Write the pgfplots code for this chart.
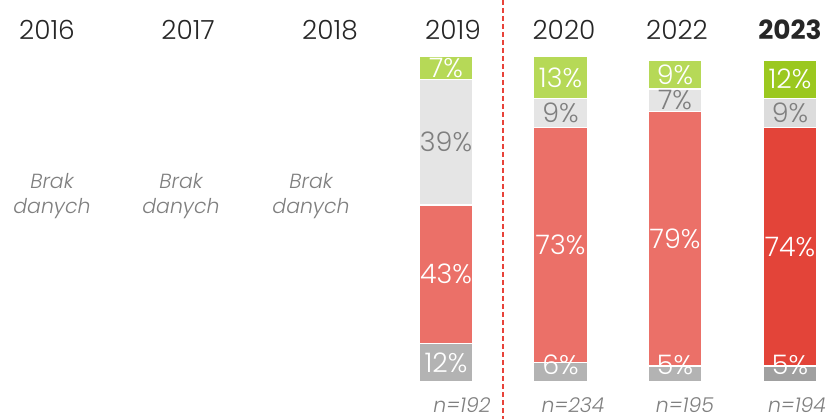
\documentclass[border=0pt]{standalone}
\usepackage{pgfplots}
\pgfplotsset{compat=1.18}
\usepackage{pgfplotstable}
\usepackage{fontspec}
\setmainfont{Poppins}[UprightFont=* Light, ItalicFont=* Light Italic, BoldFont=* Bold]

\definecolor{cgreen}{HTML}{B6D957}
\definecolor{cgreenD}{HTML}{9BC81F}
\definecolor{clgray}{HTML}{E5E5E5}
\definecolor{clgrayD}{HTML}{DCDCDC}
\definecolor{cred}{HTML}{EB7068}
\definecolor{credD}{HTML}{E34439}
\definecolor{cgray}{HTML}{B3B3B3}
\definecolor{cgrayD}{HTML}{A0A0A0}
\definecolor{ctext}{HTML}{7F7F7F}
\definecolor{cyear}{HTML}{262626}
\definecolor{cline}{HTML}{E8433A}

% x = bar centre; g = bottom grey, r = red, lg = light grey, gr = green
\pgfplotstableread{
x g r lg gr
446 12 43 39 7
560.5 6 73 9 13
675 5 79 7 9
}\dataA
\pgfplotstableread{
x g r lg gr
790 5 74 9 12
}\dataB

\pgfplotsset{base/.style={scale only axis, width=827bp, height=419bp,
  xmin=0, xmax=827, ymin=-11.49, ymax=118.63, hide axis, clip=false,
  anchor=south west, at={(0,0)}},
  lab/.style={draw=none, mark=none, nodes near coords={\pgfplotspointmeta\%},
  point meta=explicit symbolic,
  every node near coord/.append style={anchor=center, inner sep=0pt, font=\fontsize{27}{27}\selectfont, text=#1}}}

\begin{document}
\begin{tikzpicture}
% bars 2019-2022
\begin{axis}[base, ybar stacked, bar width=54]
\addplot[fill=cgray, draw=white, line width=1.3bp] table[x=x,y=g]{\dataA};
\addplot[fill=cred, draw=white, line width=1.3bp] table[x=x,y=r]{\dataA};
\addplot[fill=clgray, draw=white, line width=1.3bp] table[x=x,y=lg]{\dataA};
\addplot[fill=cgreen, draw=white, line width=1.3bp] table[x=x,y=gr]{\dataA};
\end{axis}
% bar 2023
\begin{axis}[base, ybar stacked, bar width=54]
\addplot[fill=cgrayD, draw=white, line width=1.3bp] table[x=x,y=g]{\dataB};
\addplot[fill=credD, draw=white, line width=1.3bp] table[x=x,y=r]{\dataB};
\addplot[fill=clgrayD, draw=white, line width=1.3bp] table[x=x,y=lg]{\dataB};
\addplot[fill=cgreenD, draw=white, line width=1.3bp] table[x=x,y=gr]{\dataB};
\end{axis}
% labels, line, texts
\begin{axis}[base]
\addplot[lab=white] table[x=x, y expr={max(\thisrow{g}/2,5.3)}, meta=g]{\dataA};
\addplot[lab=white] table[x=x, y expr={\thisrow{g}+\thisrow{r}/2}, meta=r]{\dataA};
\addplot[lab=ctext] table[x=x, y expr={\thisrow{g}+\thisrow{r}+\thisrow{lg}/2}, meta=lg]{\dataA};
\addplot[lab=white] table[x=x, y expr={\thisrow{g}+\thisrow{r}+\thisrow{lg}+\thisrow{gr}/2}, meta=gr]{\dataA};
\addplot[lab=white] table[x=x, y expr={max(\thisrow{g}/2,5.3)}, meta=g]{\dataB};
\addplot[lab=white] table[x=x, y expr={\thisrow{g}+\thisrow{r}/2}, meta=r]{\dataB};
\addplot[lab=ctext] table[x=x, y expr={\thisrow{g}+\thisrow{r}+\thisrow{lg}/2}, meta=lg]{\dataB};
\addplot[lab=white] table[x=x, y expr={\thisrow{g}+\thisrow{r}+\thisrow{lg}+\thisrow{gr}/2}, meta=gr]{\dataB};
\addplot[cline, line width=2bp, dash pattern=on 5bp off 3bp] coordinates {(503,118.63) (503,-11.49)};

\begin{scope}[every node/.style={font=\fontsize{26.5}{26.5}\selectfont, text=cyear, inner sep=0pt}]
\node at (axis cs:47,109.3) {2016};
\node at (axis cs:188,109.3) {2017};
\node at (axis cs:330,109.3) {2018};
\node at (axis cs:453,109.3) {2019};
\node at (axis cs:564,109.3) {2020};
\node at (axis cs:677,109.3) {2022};
\node[font=\bfseries\fontsize{26.5}{26.5}\selectfont] at (axis cs:790,109.3) {2023};
\end{scope}
\begin{scope}[every node/.style={align=center, font=\itshape\fontsize{20.5}{25}\selectfont, text=ctext, inner sep=0pt}]
\node at (axis cs:52,57.8) {Brak\\danych};
\node at (axis cs:181,57.8) {Brak\\danych};
\node at (axis cs:311,57.8) {Brak\\danych};
\node at (axis cs:462,-7.1) {n=192};
\node at (axis cs:573,-7.1) {n=234};
\node at (axis cs:685,-7.1) {n=195};
\node at (axis cs:797,-7.1) {n=194};
\end{scope}
\end{axis}
\pgfresetboundingbox
\path (0,0) rectangle (827bp,419bp);
\end{tikzpicture}
\end{document}
